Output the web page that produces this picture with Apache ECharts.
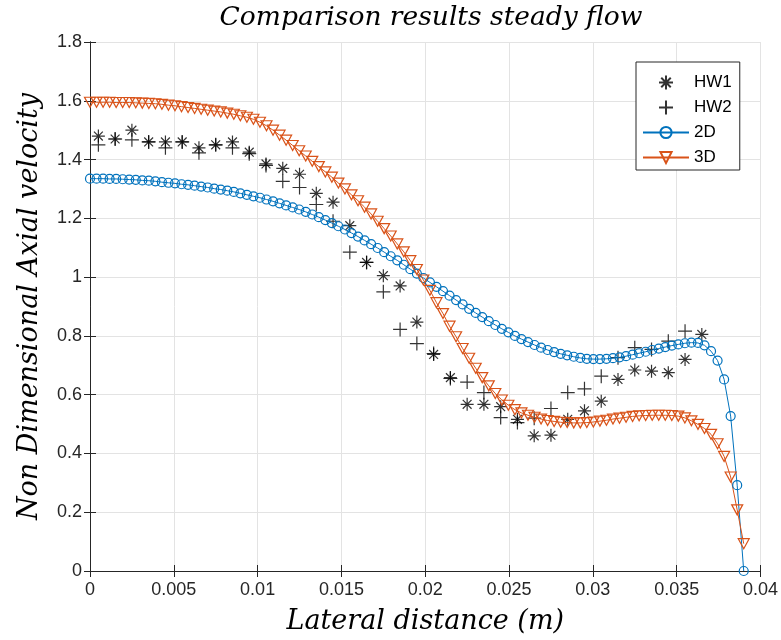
<!DOCTYPE html>
<html>
<head>
<meta charset="utf-8">
<script src="https://cdn.jsdelivr.net/npm/echarts@6/dist/echarts.min.js"></script>
<style>
  html, body { margin: 0; padding: 0; background: #fff; }
  #chart { width: 781px; height: 640px; }
</style>
</head>
<body>
<div id="chart"></div>
<script>
// lateral positions of the simulation results (m)
var xs = [0, 0.00039, 0.00078, 0.00117, 0.00156, 0.00195, 0.00234, 0.00273, 0.00312, 0.00351,
    0.0039, 0.00429, 0.00468, 0.00507, 0.00546, 0.00585, 0.00624, 0.00663, 0.00702, 0.00741,
    0.0078, 0.00819, 0.00858, 0.00897, 0.00936, 0.00975, 0.01014, 0.01053, 0.01092, 0.01131,
    0.0117, 0.01209, 0.01248, 0.01287, 0.01326, 0.01365, 0.01404, 0.01443, 0.01482, 0.01521,
    0.0156, 0.01599, 0.01638, 0.01677, 0.01716, 0.01755, 0.01794, 0.01833, 0.01872, 0.01911,
    0.0195, 0.01989, 0.02028, 0.02067, 0.02106, 0.02145, 0.02184, 0.02223, 0.02262, 0.02301,
    0.0234, 0.02379, 0.02418, 0.02457, 0.02496, 0.02535, 0.02574, 0.02613, 0.02652, 0.02691,
    0.0273, 0.02769, 0.02808, 0.02847, 0.02886, 0.02925, 0.02964, 0.03003, 0.03042, 0.03081,
    0.0312, 0.03159, 0.03198, 0.03237, 0.03276, 0.03315, 0.03354, 0.03393, 0.03432, 0.03471,
    0.0351, 0.03549, 0.03588, 0.03627, 0.03666, 0.03705, 0.03744, 0.03783, 0.03822, 0.03861,
    0.039];

var vel2D = [1.335, 1.335, 1.335, 1.334, 1.334, 1.333, 1.332, 1.331, 1.329, 1.328,
    1.326, 1.323, 1.321, 1.319, 1.316, 1.314, 1.311, 1.308, 1.305, 1.301,
    1.298, 1.294, 1.290, 1.285, 1.280, 1.275, 1.270, 1.264, 1.258, 1.251,
    1.244, 1.237, 1.230, 1.222, 1.213, 1.204, 1.194, 1.184, 1.173, 1.162,
    1.150, 1.138, 1.125, 1.112, 1.099, 1.085, 1.071, 1.057, 1.042, 1.027,
    1.012, 0.997, 0.982, 0.967, 0.952, 0.937, 0.922, 0.907, 0.892, 0.878,
    0.864, 0.850, 0.837, 0.824, 0.812, 0.800, 0.789, 0.779, 0.769, 0.760,
    0.752, 0.745, 0.739, 0.734, 0.729, 0.725, 0.722, 0.721, 0.721, 0.722,
    0.724, 0.727, 0.731, 0.736, 0.741, 0.746, 0.752, 0.757, 0.762, 0.767,
    0.771, 0.775, 0.777, 0.776, 0.768, 0.748, 0.716, 0.652, 0.527, 0.292,
    0.000];

var vel3D = [1.595, 1.595, 1.595, 1.595, 1.594, 1.594, 1.594, 1.593, 1.592, 1.591,
    1.590, 1.588, 1.585, 1.583, 1.580, 1.577, 1.574, 1.571, 1.568, 1.565,
    1.562, 1.558, 1.554, 1.549, 1.544, 1.537, 1.527, 1.515, 1.500, 1.483,
    1.466, 1.448, 1.430, 1.412, 1.394, 1.376, 1.358, 1.340, 1.320, 1.300,
    1.280, 1.260, 1.238, 1.215, 1.190, 1.165, 1.140, 1.113, 1.086, 1.056,
    1.026, 0.990, 0.955, 0.913, 0.876, 0.833, 0.797, 0.757, 0.724, 0.690,
    0.658, 0.630, 0.604, 0.582, 0.564, 0.549, 0.538, 0.530, 0.523, 0.517,
    0.512, 0.509, 0.506, 0.505, 0.504, 0.504, 0.505, 0.507, 0.510, 0.513,
    0.517, 0.520, 0.523, 0.526, 0.528, 0.529, 0.530, 0.530, 0.530, 0.529,
    0.527, 0.521, 0.511, 0.499, 0.485, 0.465, 0.433, 0.390, 0.320, 0.208,
    0.093];

// hot wire measurements
var hwX = [0.0005, 0.0015, 0.0025, 0.0035, 0.0045, 0.0055, 0.0065, 0.0075, 0.0085, 0.0095,
    0.0105, 0.0115, 0.0125, 0.0135, 0.0145, 0.0155, 0.0165, 0.0175, 0.0185, 0.0195,
    0.0205, 0.0215, 0.0225, 0.0235, 0.0245, 0.0255, 0.0265, 0.0275, 0.0285, 0.0295,
    0.0305, 0.0315, 0.0325, 0.0335, 0.0345, 0.0355, 0.0365];

var hw1 = [1.48, 1.47, 1.50, 1.46, 1.46, 1.46, 1.44, 1.45, 1.46, 1.425,
    1.385, 1.37, 1.35, 1.285, 1.255, 1.175, 1.05, 1.005, 0.97, 0.847,
    0.737, 0.658, 0.567, 0.567, 0.559, 0.516, 0.46, 0.462, 0.516, 0.545,
    0.578, 0.652, 0.684, 0.68, 0.675, 0.72, 0.805];

var hw2 = [1.45, 1.47, 1.467, 1.46, 1.44, 1.46, 1.423, 1.45, 1.44, 1.42,
    1.38, 1.326, 1.305, 1.247, 1.19, 1.085, 1.05, 0.95, 0.822, 0.774,
    0.74, 0.655, 0.643, 0.607, 0.522, 0.505, 0.52, 0.553, 0.607, 0.62,
    0.663, 0.726, 0.76, 0.754, 0.782, 0.816];

var xTicks = ['0', '0.005', '0.01', '0.015', '0.02', '0.025', '0.03', '0.035', '0.04'];

var asterisk = 'path://M5 0L5 10M0 5L10 5M1.6 1.6L8.4 8.4M8.4 1.6L1.6 8.4';
var plus = 'path://M5 0L5 10M0 5L10 5';

function pairs(x, y) {
    var out = [];
    for (var i = 0; i < y.length; i++) {
        out.push([x[i], y[i]]);
    }
    return out;
}

var axisColor = '#262626';
var tickFont = { fontFamily: 'Liberation Sans', fontSize: 18, color: axisColor };
var nameFont = { fontFamily: 'DejaVu Serif', fontStyle: 'italic', fontSize: 27, color: '#000' };

var chart = echarts.init(document.getElementById('chart'), null, {renderer: 'canvas'});

chart.setOption({
    animation: false,
    backgroundColor: '#fff',
    title: {
        text: 'Comparison results steady flow',
        left: 426,
        top: 0,
        textAlign: 'center',
        textStyle: { fontFamily: 'DejaVu Serif', fontStyle: 'italic', fontWeight: 'normal', fontSize: 26.5, color: '#000' }
    },
    grid: { left: 90, top: 42, right: 19, bottom: 68 },
    legend: {
        orient: 'vertical',
        left: 636,
        top: 62,
        padding: [12, 8, 4, 6],
        itemWidth: 46,
        itemHeight: 14,
        itemGap: 8,
        backgroundColor: '#fff',
        borderColor: axisColor,
        borderWidth: 1,
        borderRadius: 0,
        textStyle: { fontFamily: 'Liberation Sans', fontSize: 17, color: '#000' },
        data: ['HW1', 'HW2', '2D', '3D']
    },
    xAxis: [{
        type: 'value',
        min: 0,
        max: 0.04,
        interval: 0.005,
        name: 'Lateral distance (m)',
        nameLocation: 'middle',
        nameGap: 37,
        nameTextStyle: nameFont,
        axisLine: { lineStyle: { color: axisColor, width: 1 } },
        axisTick: { inside: true, length: 6, lineStyle: { color: axisColor } },
        axisLabel: Object.assign({ margin: 10, formatter: function (v, i) { return xTicks[i]; } }, tickFont),
        splitLine: { show: true, lineStyle: { color: '#e3e3e3', width: 1 } }
    }, {
        type: 'value',
        position: 'top',
        min: 0,
        max: 0.04,
        interval: 0.005,
        axisLine: { lineStyle: { color: axisColor, width: 1 } },
        axisTick: { inside: true, length: 6, lineStyle: { color: axisColor } },
        axisLabel: { show: false },
        splitLine: { show: false }
    }],
    yAxis: [{
        type: 'value',
        min: 0,
        max: 1.8,
        interval: 0.2,
        name: 'Non Dimensional Axial velocity',
        nameLocation: 'middle',
        nameGap: 47,
        nameRotate: 90,
        nameTextStyle: nameFont,
        axisLine: { show: true, lineStyle: { color: axisColor, width: 1 } },
        axisTick: { show: true, inside: true, length: 6, lineStyle: { color: axisColor } },
        axisLabel: Object.assign({ margin: 8 }, tickFont),
        splitLine: { show: true, lineStyle: { color: '#e3e3e3', width: 1 } }
    }, {
        type: 'value',
        position: 'right',
        min: 0,
        max: 1.8,
        interval: 0.2,
        axisLine: { show: true, lineStyle: { color: axisColor, width: 1 } },
        axisTick: { show: true, inside: true, length: 6, lineStyle: { color: axisColor } },
        axisLabel: { show: false },
        splitLine: { show: false }
    }],
    series: [{
        name: 'HW1',
        type: 'scatter',
        symbol: asterisk,
        symbolSize: 13,
        itemStyle: { color: 'rgba(0,0,0,0)', borderColor: '#000', borderWidth: 1.2 },
        data: pairs(hwX, hw1)
    }, {
        name: 'HW2',
        type: 'scatter',
        symbol: plus,
        symbolSize: 14,
        itemStyle: { color: 'rgba(0,0,0,0)', borderColor: '#000', borderWidth: 1.2 },
        data: pairs(hwX, hw2)
    }, {
        name: '2D',
        type: 'line',
        symbol: 'circle',
        symbolSize: 9,
        showAllSymbol: true,
        itemStyle: { color: 'rgba(255,255,255,0)', borderColor: '#0072BD', borderWidth: 1.2 },
        lineStyle: { color: '#0072BD', width: 1 },
        data: pairs(xs, vel2D)
    }, {
        name: '3D',
        type: 'line',
        symbol: 'triangle',
        symbolRotate: 180,
        symbolSize: [11, 10],
        showAllSymbol: true,
        itemStyle: { color: 'rgba(255,255,255,0)', borderColor: '#D95319', borderWidth: 1.2 },
        lineStyle: { color: '#D95319', width: 1 },
        data: pairs(xs, vel3D)
    }]
});
</script>
</body>
</html>
